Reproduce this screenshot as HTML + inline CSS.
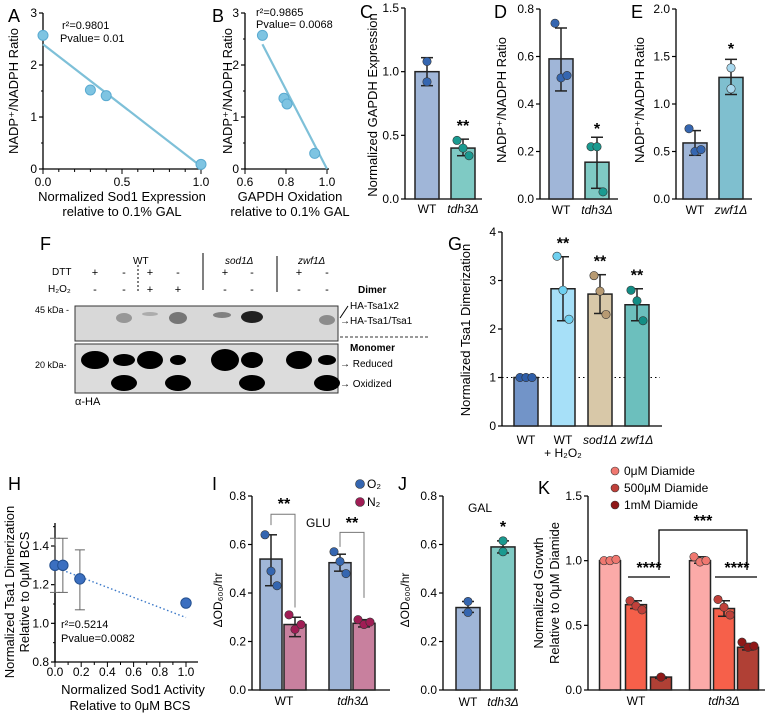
<!DOCTYPE html>
<html><head><meta charset="utf-8"><style>
body{margin:0;background:#fff}
svg{display:block;font-family:"Liberation Sans",Arial,sans-serif}
</style></head><body>
<svg id="s" width="766" height="715" viewBox="0 0 766 715">
<g id="blot">
<text x="40" y="250" font-size="18">F</text>
<text x="133" y="264" font-size="10">WT</text>
<text x="225" y="264" font-size="10" font-style="italic">sod1Δ</text>
<text x="298" y="264" font-size="10" font-style="italic">zwf1Δ</text>
<text x="52" y="275" font-size="10">DTT</text>
<text x="48" y="292" font-size="10">H₂O₂</text>
<line x1="138" y1="265" x2="138" y2="293" stroke="#000" stroke-dasharray="2,2"/>
<line x1="203" y1="253" x2="203" y2="290" stroke="#000"/>
<line x1="277" y1="256" x2="277" y2="292" stroke="#000"/>
<rect x="75" y="306" width="263" height="35" fill="#d8d8d8" stroke="#333"/>
<rect x="75" y="344" width="263" height="49" fill="#dcdcdc" stroke="#333"/>
<text x="35" y="313" font-size="9">45 kDa -</text>
<text x="35" y="368" font-size="9">20 kDa-</text>
<text x="358" y="293" font-size="10" font-weight="bold">Dimer</text>
<line x1="340" y1="318" x2="348" y2="306" stroke="#000"/>
<text x="350" y="309" font-size="10">HA-Tsa1x2</text>
<text x="340" y="324" font-size="10">→HA-Tsa1/Tsa1</text>
<line x1="340" y1="337" x2="428" y2="337" stroke="#333" stroke-dasharray="3,2"/>
<text x="350" y="351" font-size="10" font-weight="bold">Monomer</text>
<text x="340" y="367" font-size="10">→ Reduced</text>
<text x="340" y="387" font-size="10">→ Oxidized</text>
<text x="75" y="405" font-size="11">α-HA</text>
</g>
</svg>
<script>
const NS="http://www.w3.org/2000/svg";
const S=document.getElementById('s');
function el(t,a,p){const e=document.createElementNS(NS,t);for(const k in a)e.setAttribute(k,a[k]);(p||S).appendChild(e);return e;}
function tx(x,y,s,a,p){const e=el('text',Object.assign({x:x,y:y,'font-size':11},a||{}),p);e.textContent=s;return e;}

// ---- data arrays ----
const aX=[0,0.3,0.4,1.0], aY=[2.57,1.52,1.41,0.09], aFit=[2.4,0.05];
const bX=[0.685,0.79,0.805,0.94], bY=[2.57,1.36,1.25,0.3], bFit=[2.4,0.0];
const cCats=["WT","tdh3Δ"], cVals=[1.0,0.4], cErr=[[0.89,1.11],[0.34,0.47]], cPts=[[1.08,0.92],[0.46,0.40,0.34]];
const dCats=["WT","tdh3Δ"], dVals=[0.59,0.155], dErr=[[0.455,0.72],[0.045,0.26]], dPts=[[0.74,0.51,0.52],[0.22,0.22,0.03]];
const eCats=["WT","zwf1Δ"], eVals=[0.59,1.28], eErr=[[0.46,0.72],[1.10,1.47]], ePts=[[0.74,0.50,0.52],[1.38,1.16]];
const gCats=["WT","WT","sod1Δ","zwf1Δ"], gVals=[1.0,2.83,2.72,2.5], gErr=[[1,1],[2.17,3.49],[2.32,3.12],[2.17,2.83]], gPts=[[1,1,1],[3.5,2.8,2.2],[3.1,2.78,2.3],[2.8,2.58,2.17]];
const hX=[0,0.06,0.19,1.0], hY=[1.30,1.30,1.23,1.105], hErrLo=[1.16,1.16,1.07,1.105], hErrHi=[1.44,1.44,1.38,1.105], hFit=[1.29,1.03];
const iVals=[0.54,0.27,0.525,0.275], iErr=[[0.43,0.64],[0.22,0.30],[0.49,0.56],[0.26,0.29]], iPts=[[0.64,0.49,0.43],[0.31,0.25,0.27],[0.57,0.53,0.48],[0.29,0.27,0.28]];
const jVals=[0.34,0.59], jErr=[[0.32,0.365],[0.565,0.615]], jPts=[[0.365,0.32],[0.615,0.57]];
const kVals=[1.0,0.66,0.1,1.0,0.63,0.33], kErr=[[1,1],[0.63,0.69],[0.09,0.1],[0.98,1.03],[0.57,0.69],[0.31,0.36]], kPts=[[1.0,1.0,1.01],[0.69,0.65,0.62],[0.1,0.1],[1.03,0.99,1.0],[0.70,0.64,0.58],[0.37,0.33,0.34]];
const laneX=[95,124,150,178,225,252,299,327];
const dttSigns=["+","-","+","-","+","-","+","-"], h2o2Signs=["-","-","+","+","-","-","-","-"];

function yaxis(p,x,y0,y1,vmin,vmax,ticks,fmt,minor){
  const sc=v=>y0-(v-vmin)/(vmax-vmin)*(y0-y1);
  el('line',{x1:x,y1:y0,x2:x,y2:y1,stroke:'#000','stroke-width':1.3},p);
  ticks.forEach(t=>{el('line',{x1:x-4,y1:sc(t),x2:x,y2:sc(t),stroke:'#000','stroke-width':1.2},p);
    tx(x-6,sc(t)+4,fmt(t),{'text-anchor':'end','font-size':12},p);});
  if(minor)minor.forEach(t=>el('line',{x1:x-2,y1:sc(t),x2:x,y2:sc(t),stroke:'#000'},p));
  return sc;
}
function g(name){const e=el('g',{});return e;}
function vtext(x,y,s,p,size){return tx(x,y,s,{'text-anchor':'middle','font-size':size||13,transform:`rotate(-90 ${x} ${y})`},p);}
function dot(p,x,y,fill,r){const c=el('circle',{cx:x,cy:y,r:r||4.2,fill:fill,stroke:'#333','stroke-width':0.6},p);return c;}
function bars(p,sc,xs,w,vals,errs,pts,bc,pc){
  vals.forEach((v,i)=>{
    const r=el('rect',{x:xs[i]-w/2,y:sc(v),width:w,height:sc(0)-sc(v),fill:bc[i],stroke:'#222','stroke-width':1.5},p);
    
    const [lo,hi]=errs[i];
    el('line',{x1:xs[i],y1:sc(lo),x2:xs[i],y2:sc(hi),stroke:'#222','stroke-width':1.5},p);
    [lo,hi].forEach(e=>el('line',{x1:xs[i]-6,y1:sc(e),x2:xs[i]+6,y2:sc(e),stroke:'#222','stroke-width':1.5},p));
    const n=pts[i].length;pts[i].forEach((pv,j)=>dot(p,xs[i]+(n==1?0:(j-(n-1)/2)*(n==3?6:0)),sc(pv),pc[i]));
  });
}

// blot signs
{const p=g('blot-treatment-signs');
 laneX.forEach((x,i)=>{const a=tx(x,276,dttSigns[i],{'text-anchor':'middle','font-size':11},p);
   const b=tx(x,293,h2o2Signs[i],{'text-anchor':'middle','font-size':11},p);});}

// Panel A
{const p=g('panel-a');tx(8,22,'A',{'font-size':18},p);
 const sc=yaxis(p,43,169,13,0,3,[0,1,2,3],v=>v,[0.5,1.5,2.5]);
 const xs=v=>43+v*158;
 el('line',{x1:43,y1:169,x2:203,y2:169,stroke:'#000','stroke-width':1.3},p);
 [0,0.5,1].forEach(t=>{el('line',{x1:xs(t),y1:169,x2:xs(t),y2:174,stroke:'#000'},p);tx(xs(t),186,t.toFixed(1),{'text-anchor':'middle','font-size':12},p);});
 for(let t=0.1;t<1;t+=0.1)el('line',{x1:xs(t),y1:169,x2:xs(t),y2:172,stroke:'#000'},p);
 el('line',{x1:xs(0),y1:sc(aFit[0]),x2:xs(1),y2:sc(aFit[1]),stroke:'#7ec0d8','stroke-width':2.2},p);
 aX.forEach((v,i)=>{const c=el('circle',{cx:xs(v),cy:sc(aY[i]),r:5,fill:'#7ec4e2',stroke:'#5aaad0'},p);});
 tx(62,29,'r²=0.9801',{'font-size':11},p);tx(60,42,'Pvalue= 0.01',{'font-size':11},p);
 vtext(18,91,'NADP⁺/NADPH Ratio',p);
 tx(122,201,'Normalized Sod1 Expression',{'text-anchor':'middle','font-size':13},p);
 tx(122,216,'relative to 0.1% GAL',{'text-anchor':'middle','font-size':13},p);}
// Panel B
{const p=g('panel-b');tx(212,22,'B',{'font-size':18},p);
 const sc=yaxis(p,245,169,13,0,3,[0,1,2,3],v=>v,[0.5,1.5,2.5]);
 const xs=v=>245+(v-0.6)/0.4*82;
 el('line',{x1:245,y1:169,x2:329,y2:169,stroke:'#000','stroke-width':1.3},p);
 [0.6,0.8,1.0].forEach(t=>{el('line',{x1:xs(t),y1:169,x2:xs(t),y2:174,stroke:'#000'},p);tx(xs(t),186,t.toFixed(1),{'text-anchor':'middle','font-size':12},p);});
 el('line',{x1:xs(bX[0]),y1:sc(bFit[0]),x2:xs(1.0),y2:sc(bFit[1]),stroke:'#7ec0d8','stroke-width':2.2},p);
 bX.forEach((v,i)=>{const c=el('circle',{cx:xs(v),cy:sc(bY[i]),r:5,fill:'#7ec4e2',stroke:'#5aaad0'},p);});
 tx(256,16,'r²=0.9865',{'font-size':11},p);tx(256,28,'Pvalue= 0.0068',{'font-size':11},p);
 vtext(232,91,'NADP⁺/NADPH Ratio',p);
 tx(290,201,'GAPDH Oxidation',{'text-anchor':'middle','font-size':13},p);
 tx(290,216,'relative to 0.1% GAL',{'text-anchor':'middle','font-size':13},p);}
function xlabels(p,xs,cats,y,italic){cats.forEach((c,i)=>tx(xs[i],y,c,{'text-anchor':'middle','font-size':12,'font-style':(italic&&italic[i])?'italic':'normal'},p));}
// Panel C
{const p=g('panel-c');tx(360,18,'C',{'font-size':18},p);
 const sc=yaxis(p,405,199,8,0,1.5,[0,0.5,1.0,1.5],v=>v.toFixed(1));
 el('line',{x1:405,y1:199,x2:482,y2:199,stroke:'#000','stroke-width':1.3},p);
 const xs=[427,463];bars(p,sc,xs,24,cVals,cErr,cPts,['#a0b6d8','#7fcac4'],['#3566b0','#1a9a90']);
 xlabels(p,xs,cCats,213,[0,1]);tx(463,131,'**',{'text-anchor':'middle','font-size':16,'font-weight':'bold'},p);
 vtext(377,105,'Normalized GAPDH Expression',p);}
// Panel D
{const p=g('panel-d');tx(494,18,'D',{'font-size':18},p);
 const sc=yaxis(p,540,199,9,0,0.8,[0,0.2,0.4,0.6,0.8],v=>v.toFixed(1));
 el('line',{x1:540,y1:199,x2:618,y2:199,stroke:'#000','stroke-width':1.3},p);
 const xs=[561,597];bars(p,sc,xs,24,dVals,dErr,dPts,['#a0b6d8','#7fcac4'],['#3566b0','#1a9a90']);
 xlabels(p,xs,dCats,214,[0,1]);tx(597,134,'*',{'text-anchor':'middle','font-size':16,'font-weight':'bold'},p);
 vtext(506,100,'NADP⁺/NADPH Ratio',p);}
// Panel E
{const p=g('panel-e');tx(631,18,'E',{'font-size':18},p);
 const sc=yaxis(p,676,199,9,0,2,[0,0.5,1.0,1.5,2.0],v=>v.toFixed(1));
 el('line',{x1:676,y1:199,x2:752,y2:199,stroke:'#000','stroke-width':1.3},p);
 const xs=[695,731];bars(p,sc,xs,24,eVals,eErr,ePts,['#a0b6d8','#7fbfcf'],['#3566b0','#a8d8ee']);
 xlabels(p,xs,eCats,214,[0,1]);tx(731,54,'*',{'text-anchor':'middle','font-size':16,'font-weight':'bold'},p);
 vtext(644,100,'NADP⁺/NADPH Ratio',p);}
// Blot bands
{const p=g('blot-bands');
 const bl=(cx,cy,rx,ry,o)=>el('ellipse',{cx:cx,cy:cy,rx:rx,ry:ry,fill:'#000',opacity:o},p);
 [[95,14,9],[124,11,6],[150,13,9],[178,8,5],[225,14,11],[252,11,8],[299,13,9],[327,9,5]].forEach(b=>bl(b[0],360,b[1],b[2],1));
 [124,178,252,327].forEach(x=>bl(x,383,13,8,1));
 [[124,318,8,5,0.3],[178,318,9,6,0.45],[222,315,9,3,0.4],[252,317,11,6,0.85],[327,320,8,5,0.35],[150,314,8,2,0.2]].forEach(b=>bl(b[0],b[1],b[2],b[3],b[4]));}
// Panel G
{const p=g('panel-g');tx(448,250,'G',{'font-size':18},p);
 const sc=yaxis(p,502,426,232,0,4,[0,1,2,3,4],v=>v);
 el('line',{x1:502,y1:426,x2:662,y2:426,stroke:'#000','stroke-width':1.3},p);
 el('line',{x1:502,y1:sc(1),x2:660,y2:sc(1),stroke:'#000','stroke-dasharray':'1.5,3'},p);
 const xs=[526,563,600,637];
 bars(p,sc,xs,24,gVals,gErr,gPts,['#7294c8','#a7e0f8','#d8c8a8','#6cbfbd'],['#2f5ea8','#6ed0f0','#b79a72','#138d85']);
 xlabels(p,xs,gCats,444,[0,0,1,1]);tx(563,457,'+ H₂O₂',{'text-anchor':'middle','font-size':12},p);
 [1,2,3].forEach(i=>tx(xs[i],sc(gErr[i][1])-8,'**',{'text-anchor':'middle','font-size':16,'font-weight':'bold'},p));
 vtext(470,330,'Normalized Tsa1 Dimerization',p);}
// Panel H
{const p=g('panel-h');tx(8,490,'H',{'font-size':18},p);
 const sc=yaxis(p,55,662,546,0.8,1.4,[0.8,1.0,1.2,1.4],v=>v.toFixed(1),[0.9,1.1,1.3,1.5]);
 el('line',{x1:55,y1:662,x2:55,y2:523,stroke:'#000','stroke-width':1.3},p);
 const xs=v=>55+v*131;
 el('line',{x1:55,y1:662,x2:198,y2:662,stroke:'#000','stroke-width':1.3},p);
 for(let k=0;k<=5;k++){const t=k*0.2;el('line',{x1:xs(t),y1:662,x2:xs(t),y2:667,stroke:'#000'},p);tx(xs(t),676,t.toFixed(1),{'text-anchor':'middle','font-size':12},p);}
 for(let k=0;k<5;k++)el('line',{x1:xs(k*0.2+0.1),y1:662,x2:xs(k*0.2+0.1),y2:665,stroke:'#000'},p);
 el('line',{x1:xs(0),y1:sc(hFit[0]),x2:xs(1),y2:sc(hFit[1]),stroke:'#3a78c8','stroke-width':1.4,'stroke-dasharray':'1.5,2.5'},p);
 hX.forEach((v,i)=>{if(hErrHi[i]>hErrLo[i]){el('line',{x1:xs(v),y1:sc(hErrLo[i]),x2:xs(v),y2:sc(hErrHi[i]),stroke:'#666'},p);
   [hErrLo[i],hErrHi[i]].forEach(e=>el('line',{x1:xs(v)-5,y1:sc(e),x2:xs(v)+5,y2:sc(e),stroke:'#666'},p));}
   const c=el('circle',{cx:xs(v),cy:sc(hY[i]),r:5.2,fill:'#3b6fc0',stroke:'#24508f'},p);});
 tx(61,628,'r²=0.5214',{'font-size':11},p);tx(61,642,'Pvalue=0.0082',{'font-size':11},p);
 vtext(14,592,'Normalized Tsa1 Dimerization',p);vtext(29,592,'Relative to 0μM BCS',p);
 tx(133,694,'Normalized Sod1 Activity',{'text-anchor':'middle','font-size':13},p);
 tx(130,710,'Relative to 0μM BCS',{'text-anchor':'middle','font-size':13},p);}
// Panel I
{const p=g('panel-i');tx(212,490,'I',{'font-size':18},p);
 const sc=yaxis(p,252,690,496,0,0.8,[0,0.2,0.4,0.6,0.8],v=>v.toFixed(1));
 el('line',{x1:252,y1:690,x2:390,y2:690,stroke:'#000','stroke-width':1.3},p);
 const xs=[271,295,340,364];
 bars(p,sc,xs,22,iVals,iErr,iPts,['#a0b6d8','#c8809e','#a0b6d8','#c8809e'],['#3566b0','#a01d55','#3566b0','#a01d55']);
 tx(284,705,'WT',{'text-anchor':'middle','font-size':12},p);tx(353,705,'tdh3Δ',{'text-anchor':'middle','font-size':12,'font-style':'italic'},p);
 el('polyline',{points:`${xs[0]},${sc(0.68)} ${xs[0]},${sc(0.725)} ${xs[1]},${sc(0.725)} ${xs[1]},${sc(0.34)}`,fill:'none',stroke:'#777'},p);
 el('polyline',{points:`${xs[2]},${sc(0.59)} ${xs[2]},${sc(0.65)} ${xs[3]},${sc(0.65)} ${xs[3]},${sc(0.38)}`,fill:'none',stroke:'#777'},p);
 tx(284,509,'**',{'text-anchor':'middle','font-size':16,'font-weight':'bold'},p);tx(352,528,'**',{'text-anchor':'middle','font-size':16,'font-weight':'bold'},p);
 tx(306,527,'GLU',{'font-size':12},p);
 dot(p,360,484,'#3566b0',4.5);tx(367,488,'O₂',{'font-size':12},p);
 dot(p,360,502,'#a01d55',4.5);tx(367,506,'N₂',{'font-size':12},p);
 vtext(222,600,'ΔOD₆₀₀/hr',p,12);}
// Panel J
{const p=g('panel-j');tx(398,490,'J',{'font-size':18},p);
 const sc=yaxis(p,443,690,496,0,0.8,[0,0.2,0.4,0.6,0.8],v=>v.toFixed(1));
 el('line',{x1:443,y1:690,x2:518,y2:690,stroke:'#000','stroke-width':1.3},p);
 const xs=[468,503];bars(p,sc,xs,24,jVals,jErr,jPts,['#a0b6d8','#7fcac4'],['#3566b0','#1a9a90']);
 xlabels(p,xs,['WT','tdh3Δ'],706,[0,1]);
 tx(480,512,'GAL',{'text-anchor':'middle','font-size':12},p);tx(503,532,'*',{'text-anchor':'middle','font-size':16,'font-weight':'bold'},p);
 vtext(409,600,'ΔOD₆₀₀/hr',p,12);}
// Panel K
{const p=g('panel-k');tx(538,494,'K',{'font-size':18},p);
 const sc=yaxis(p,588,690,496,0,1.5,[0,0.5,1.0,1.5],v=>v.toFixed(1));
 el('line',{x1:588,y1:690,x2:765,y2:690,stroke:'#000','stroke-width':1.3},p);
 const xs=[610,636,661,700,724,748];
 const bc=['#fbaaa8','#f6604a','#b04035'],pc=['#f07870','#c0403a','#901818'];
 bars(p,sc,xs,21,kVals,kErr,kPts,[...bc,...bc],[...pc,...pc]);
 tx(636,705,'WT',{'text-anchor':'middle','font-size':12},p);tx(724,705,'tdh3Δ',{'text-anchor':'middle','font-size':12,'font-style':'italic'},p);
 el('line',{x1:628,y1:577,x2:670,y2:577,stroke:'#000','stroke-width':1.3},p);
 el('line',{x1:715,y1:577,x2:757,y2:577,stroke:'#000','stroke-width':1.3},p);
 tx(649,573,'****',{'text-anchor':'middle','font-size':16,'font-weight':'bold'},p);tx(737,573,'****',{'text-anchor':'middle','font-size':16,'font-weight':'bold'},p);
 el('polyline',{points:'659,570 659,530 747,530 747,570',fill:'none',stroke:'#000','stroke-width':1.3},p);
 tx(703,526,'***',{'text-anchor':'middle','font-size':16,'font-weight':'bold'},p);
 ['0μM Diamide','500μM Diamide','1mM Diamide'].forEach((s,i)=>{dot(p,615,471+i*17,pc[i],4);tx(624,475+i*17,s,{'font-size':12},p);});
 vtext(543,593,'Normalized Growth',p);vtext(559,593,'Relative to 0μM Diamide',p);}
</script>
</body></html>
